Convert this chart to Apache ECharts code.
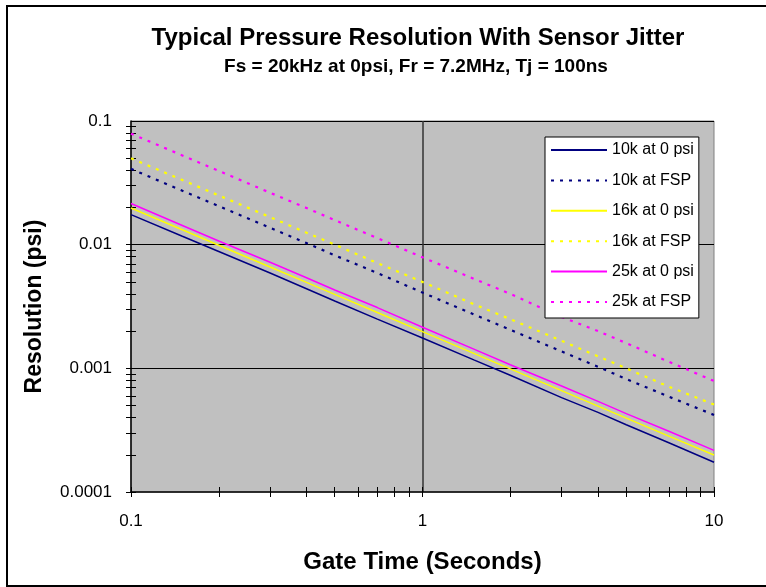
<!DOCTYPE html>
<html>
<head>
<meta charset="utf-8">
<script src="https://cdn.jsdelivr.net/npm/echarts@6/dist/echarts.min.js"></script>
<style>
    html, body { margin: 0; padding: 0; background: #fff; }
    #chart { width: 766px; height: 587px; }
</style>
</head>
<body>
<div id="chart"></div>
<script>
(function () {

    // gate time (s)
    var gateTime = [0.1, 0.15, 0.2, 0.3, 0.4, 0.5, 0.7, 1, 1.5, 2, 3, 4, 5, 7, 10];

    var res10k0 = [0.0175, 0.0117, 0.0088, 0.0059, 0.0044, 0.0035, 0.0025, 0.00176, 0.00117, 0.00088, 0.00058, 0.00044, 0.00035, 0.00025, 0.000174];
    var res10kFsp = [0.041, 0.0273, 0.0205, 0.0137, 0.0103, 0.0082, 0.0059, 0.0041, 0.00273, 0.00205, 0.00137, 0.00103, 0.00082, 0.00059, 0.00042];
    var res16k0 = [0.0198, 0.0132, 0.0099, 0.0066, 0.00495, 0.00396, 0.00283, 0.00198, 0.00132, 0.00099, 0.00066, 0.000495, 0.000396, 0.000283, 0.000199];
    var res16kFsp = [0.05, 0.0333, 0.025, 0.0167, 0.0125, 0.01, 0.0071, 0.005, 0.0033, 0.0025, 0.00167, 0.00125, 0.001, 0.00071, 0.00051];
    var res25k0 = [0.0215, 0.0143, 0.0107, 0.0072, 0.0054, 0.0043, 0.0031, 0.00215, 0.00143, 0.00107, 0.00072, 0.00054, 0.00043, 0.00031, 0.000217];
    var res25kFsp = [0.079, 0.0527, 0.0395, 0.0263, 0.0198, 0.0158, 0.0113, 0.0079, 0.0053, 0.004, 0.0026, 0.002, 0.0016, 0.00113, 0.00079];

    var seriesNames = ['10k at 0 psi', '10k at FSP', '16k at 0 psi', '16k at FSP', '25k at 0 psi', '25k at FSP'];
    var seriesValues = [res10k0, res10kFsp, res16k0, res16kFsp, res25k0, res25kFsp];
    var seriesColors = ['#000080', '#000080', '#FFFF00', '#FFFF00', '#FF00FF', '#FF00FF'];

    var xTicks = [0.1, 0.2, 0.3, 0.4, 0.5, 0.6, 0.7, 0.8, 0.9, 1, 2, 3, 4, 5, 6, 7, 8, 9, 10];
    var yTicks = [0.0001, 0.0002, 0.0003, 0.0004, 0.0005, 0.0006, 0.0007, 0.0008, 0.0009,
        0.001, 0.002, 0.003, 0.004, 0.005, 0.006, 0.007, 0.008, 0.009,
        0.01, 0.02, 0.03, 0.04, 0.05, 0.06, 0.07, 0.08, 0.09, 0.1];

    var font = 'Arial, "Liberation Sans", sans-serif';

    var series = seriesNames.map(function (name, i) {
        return {
            name: name,
            type: 'line',
            symbol: 'none',
            xAxisIndex: 0,
            yAxisIndex: 0,
            data: gateTime.map(function (t, j) { return [t, seriesValues[i][j]]; }),
            lineStyle: {
                color: seriesColors[i],
                width: i % 2 === 0 ? 1.5 : 2.2,
                type: i % 2 === 0 ? 'solid' : [3, 6]
            },
            itemStyle: { color: seriesColors[i] }
        };
    });

    // helper axes: inside half of the cross ticks, and the grid lines
    function tickAxis(type, min, max, ticks) {
        return {
            type: 'log', min: min, max: max,
            position: type === 'x' ? 'bottom' : 'left',
            axisLine: { show: false },
            axisTick: { show: true, inside: true, length: 5, customValues: ticks, lineStyle: { color: '#000' } },
            axisLabel: { show: false },
            splitLine: { show: false }
        };
    }
    function splitAxis(type, min, max, color, width) {
        return {
            type: 'log', min: min, max: max,
            position: type === 'x' ? 'bottom' : 'left',
            axisLine: { show: false },
            axisTick: { show: false },
            axisLabel: { show: false },
            splitLine: { show: true, showMinLine: false, showMaxLine: false, lineStyle: { color: color, width: width } }
        };
    }

    var option = {
        animation: false,
        title: [
            {
                text: 'Typical Pressure Resolution With Sensor Jitter',
                left: 413, top: 21, textAlign: 'center',
                textStyle: { fontFamily: font, fontSize: 24, fontWeight: 'bold', color: '#000' }
            },
            {
                text: 'Fs = 20kHz at 0psi, Fr = 7.2MHz, Tj = 100ns',
                left: 411, top: 52, textAlign: 'center',
                textStyle: { fontFamily: font, fontSize: 19, fontWeight: 'bold', color: '#000' }
            }
        ],
        legend: {
            orient: 'vertical',
            left: 545, top: 137,
            padding: [5, 5, 8, 5],
            backgroundColor: '#fff',
            borderColor: '#000',
            borderWidth: 1,
            itemWidth: 56,
            itemHeight: 14,
            itemGap: 14.4,
            itemStyle: { opacity: 0 },
            textStyle: { fontFamily: font, fontSize: 16, color: '#000' },
            data: seriesNames
        },
        grid: {
            left: 131, top: 121, width: 583, height: 371,
            show: true,
            backgroundColor: '#C0C0C0',
            borderColor: '#808080',
            borderWidth: 1
        },
        xAxis: [
            {
                type: 'log',
                min: 0.1, max: 10,
                name: 'Gate Time (Seconds)',
                nameLocation: 'middle',
                nameGap: 58,
                nameTextStyle: { fontFamily: font, fontSize: 24, fontWeight: 'bold', color: '#000' },
                axisLine: { lineStyle: { color: '#000', width: 1.5 } },
                axisTick: { inside: false, length: 5, customValues: xTicks, lineStyle: { color: '#000' } },
                axisLabel: { margin: 21, fontFamily: font, fontSize: 17, color: '#000' },
                splitLine: { show: false }
            },
            tickAxis('x', 0.1, 10, xTicks),
            splitAxis('x', 0.1, 10, '#333', 1.5)
        ],
        yAxis: [
            {
                type: 'log',
                min: 0.0001, max: 0.1,
                name: 'Resolution (psi)',
                nameLocation: 'middle',
                nameGap: 85,
                nameTextStyle: { fontFamily: font, fontSize: 23, fontWeight: 'bold', color: '#000' },
                axisLine: { show: true, lineStyle: { color: '#000', width: 1.5 } },
                axisTick: { show: true, inside: false, length: 5, customValues: yTicks, lineStyle: { color: '#000' } },
                axisLabel: { margin: 19, fontFamily: font, fontSize: 17, color: '#000' },
                splitLine: { show: false }
            },
            tickAxis('y', 0.0001, 0.1, yTicks),
            splitAxis('y', 0.0001, 0.1, '#000', 1.2)
        ],
        graphic: [
            {
                type: 'rect',
                shape: { x: 7, y: 6, width: 800, height: 580 },
                style: { fill: 'none', stroke: '#000', lineWidth: 2 },
                silent: true
            }
        ],
        series: series
    };

    var myChart = echarts.init(document.getElementById('chart'));
    myChart.setOption(option);

})();
</script>
</body>
</html>
